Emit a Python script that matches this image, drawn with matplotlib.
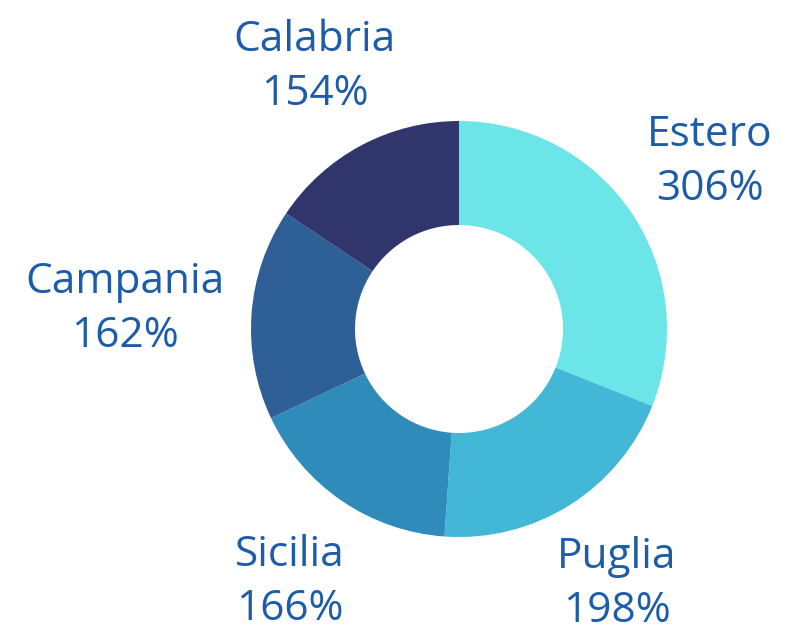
import matplotlib
matplotlib.use("Agg")
import matplotlib.pyplot as plt

# data
regions = ["Estero", "Puglia", "Sicilia", "Campania", "Calabria"]
values = [306, 198, 166, 162, 154]
labels = ["306%", "198%", "166%", "162%", "154%"]
colors = ["#6be5e8", "#43b7d6", "#2e8bba", "#2e5f97", "#30356c"]

plt.rcParams['font.family'] = ['Open Sans', 'DejaVu Sans']

fig = plt.figure(figsize=(7.88, 6.32), dpi=100)
ax = fig.add_axes([0, 0, 1, 1])

# pie drawn in pixel-like coords so it lines up with the reference
ax.pie(values, colors=colors, startangle=90, counterclock=False,
       center=(459, -329), radius=208,
       wedgeprops=dict(width=104, edgecolor="none"))
ax.set_xlim(0, 788)
ax.set_ylim(-632, 0)
ax.set_aspect("equal")
ax.axis("off")

# label anchors (x, y in pixels from top-left)
label_pos = [(710, 162), (617, 584), (290, 582), (125, 309), (315, 67)]
for name, lab, (x, y) in zip(regions, labels, label_pos):
    ax.text(x, -y, name + "\n" + lab, ha="center", va="center",
            fontsize=30.5, color="#1c5ca8", linespacing=1.35)

fig.savefig("out.png", dpi=100)
